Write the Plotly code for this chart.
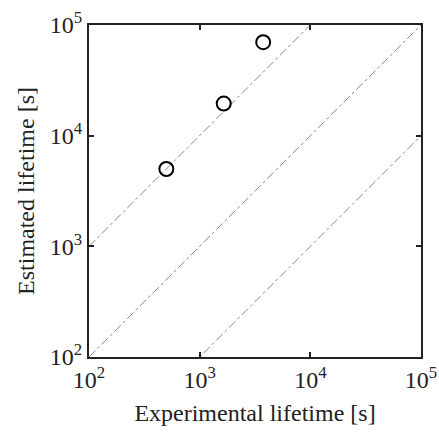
import plotly.graph_objects as go

exp_lifetime = [500, 1650, 3750]
est_lifetime = [5000, 19500, 70000]

ref_x = [100, 100000]
ref_factors = [10, 1, 0.1]

tick_vals = [100, 1000, 10000, 100000]
tick_text = ["10<sup>2</sup>", "10<sup>3</sup>", "10<sup>4</sup>", "10<sup>5</sup>"]

fig = go.Figure()
for f in ref_factors:
    fig.add_trace(go.Scatter(
        x=ref_x, y=[v * f for v in ref_x], mode="lines",
        line=dict(color="#8a8a8a", width=1, dash="dashdot"),
        showlegend=False, hoverinfo="skip"))

fig.add_trace(go.Scatter(
    x=exp_lifetime, y=est_lifetime, mode="markers",
    marker=dict(symbol="circle-open", size=14, color="black", line=dict(width=2, color="black")),
    showlegend=False))

font = dict(family="Liberation Serif, Times New Roman, serif", size=24, color="#222")
axis_common = dict(
    type="log", range=[2, 5], tickvals=tick_vals, ticktext=tick_text,
    ticks="inside", ticklen=5, tickwidth=1.5, tickcolor="#222",
    showline=True, linecolor="#222", linewidth=2, mirror="ticks",
    showgrid=False, zeroline=False, tickfont=font, automargin=False,
)

fig.update_layout(
    template="none",
    width=439, height=433,
    margin=dict(l=89, r=18, t=25, b=76),
    paper_bgcolor="white", plot_bgcolor="white",
    font=font,
    xaxis=dict(**axis_common, title=dict(text="Experimental lifetime [s]", font=font, standoff=12)),
    yaxis=dict(**axis_common, title=dict(text="Estimated lifetime [s]", font=font, standoff=8)),
)

fig.write_html("out.html", config={"displayModeBar": False},
               post_script="document.body.style.margin='0';")
